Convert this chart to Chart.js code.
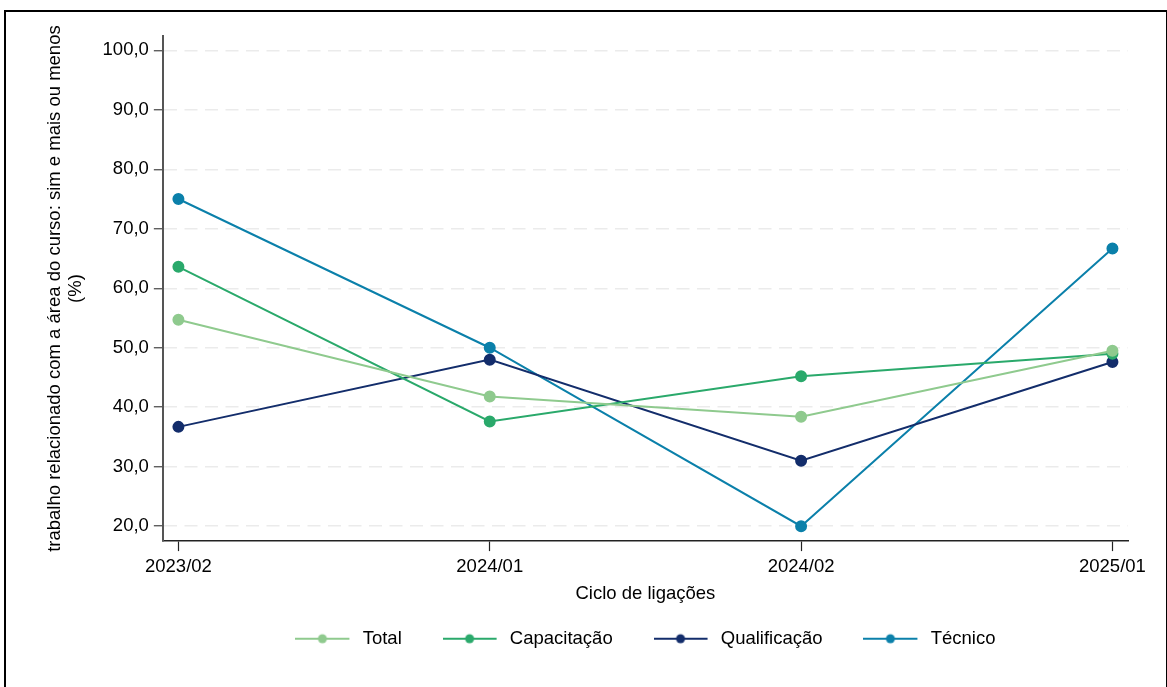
<!DOCTYPE html>
<html>
<head>
<meta charset="utf-8">
<script src="https://cdn.jsdelivr.net/npm/chart.js@4/dist/chart.umd.min.js"></script>
<style>
    body { margin: 0; background: #fff; }
    #wrap { position: absolute; left: 0; top: 0; width: 1167px; height: 687px; }
    #frame { position: absolute; left: 4px; top: 10px; width: 1160px; height: 700px; border: 2px solid #000; pointer-events: none; }
</style>
</head>
<body>
<div id="wrap"><canvas id="lineChart"></canvas></div>
<div id="frame"></div>
<script>
var categories = ['2023/02', '2024/01', '2024/02', '2025/01'];
var total = [54.7, 41.8, 38.4, 49.5];
var capacitacao = [63.6, 37.6, 45.2, 49.0];
var qualificacao = [36.7, 48.0, 31.0, 47.6];
var tecnico = [75.0, 50.0, 20.0, 66.7];
var yTicks = [20, 30, 40, 50, 60, 70, 80, 90, 100];

var seriesNames = ['Total', 'Capacitação', 'Qualificação', 'Técnico'];
var seriesValues = [total, capacitacao, qualificacao, tecnico];
var colors = ['#8fca8e', '#2aa96b', '#132d6b', '#0b80aa'];

// legend symbol: short line with a dot in the middle
function legendSymbol(color) {
    var c = document.createElement('canvas');
    c.width = 58;
    c.height = 12;
    var g = c.getContext('2d');
    g.strokeStyle = color;
    g.lineWidth = 2;
    g.beginPath();
    g.moveTo(0, 6);
    g.lineTo(54, 6);
    g.stroke();
    g.fillStyle = color;
    g.beginPath();
    g.arc(27, 6, 4.5, 0, Math.PI * 2);
    g.fill();
    return c;
}

var datasets = seriesNames.map(function (name, i) {
    return {
        label: name,
        data: seriesValues[i].map(function (v, j) { return { x: j, y: v }; }),
        borderColor: colors[i],
        backgroundColor: colors[i],
        pointBackgroundColor: colors[i],
        pointBorderColor: colors[i],
        borderWidth: 2,
        pointRadius: 5,
        pointHoverRadius: 5,
        tension: 0
    };
});

var font = { family: "'Liberation Sans', Arial, sans-serif", size: 18.5 };

var ctx = document.getElementById('lineChart').getContext('2d');
var chart = new Chart(ctx, {
    type: 'line',
    data: { datasets: datasets },
    options: {
        responsive: true,
        maintainAspectRatio: false,
        animation: false,
        layout: {
            padding: { left: 44, top: 36, right: 39, bottom: 29 }
        },
        scales: {
            x: {
                type: 'linear',
                min: -0.05,
                max: 3.05,
                afterBuildTicks: function (axis) {
                    axis.ticks = categories.map(function (c, i) { return { value: i }; });
                },
                ticks: {
                    color: '#000',
                    font: font,
                    padding: 5,
                    autoSkip: false,
                    maxRotation: 0,
                    callback: function (value) { return categories[value]; }
                },
                grid: {
                    drawOnChartArea: false,
                    drawTicks: true,
                    tickLength: 10,
                    tickColor: '#222',
                    tickWidth: 1.2
                },
                border: { color: '#222', width: 1.5 },
                title: {
                    display: true,
                    text: 'Ciclo de ligações',
                    color: '#000',
                    font: font,
                    padding: { top: 0, bottom: 14 }
                }
            },
            y: {
                min: 17.5,
                max: 102.4,
                afterBuildTicks: function (axis) {
                    axis.ticks = yTicks.map(function (v) { return { value: v }; });
                },
                ticks: {
                    color: '#000',
                    font: font,
                    padding: 5,
                    callback: function (value) { return value.toFixed(1).replace('.', ','); }
                },
                grid: {
                    color: '#ebebeb',
                    lineWidth: 1.5,
                    tickLength: 9,
                    tickColor: '#444',
                    tickWidth: 1.2,
                    tickBorderDash: []
                },
                border: { color: '#555', width: 2, dash: [13, 7.5] },
                title: {
                    display: true,
                    text: ['trabalho relacionado com a área do curso: sim e mais ou menos', '(%)'],
                    color: '#000',
                    font: { family: font.family, size: 18.5, lineHeight: 1.15 },
                    padding: { top: 0, bottom: 11 }
                }
            }
        },
        plugins: {
            legend: {
                position: 'bottom',
                fullSize: false,
                labels: {
                    color: '#000',
                    font: font,
                    usePointStyle: true,
                    pointStyleWidth: 58,
                    padding: 10,
                    generateLabels: function (chart) {
                        var n = chart.data.datasets.length;
                        return chart.data.datasets.map(function (ds, i) {
                            // trailing spaces widen the gap between legend items
                            return {
                                text: i < n - 1 ? ds.label + '      ' : ds.label,
                                pointStyle: legendSymbol(ds.borderColor),
                                fillStyle: ds.borderColor,
                                strokeStyle: ds.borderColor,
                                lineWidth: 0,
                                fontColor: '#000',
                                datasetIndex: i
                            };
                        });
                    }
                }
            },
            tooltip: { enabled: false }
        }
    }
});
</script>
</body>
</html>
